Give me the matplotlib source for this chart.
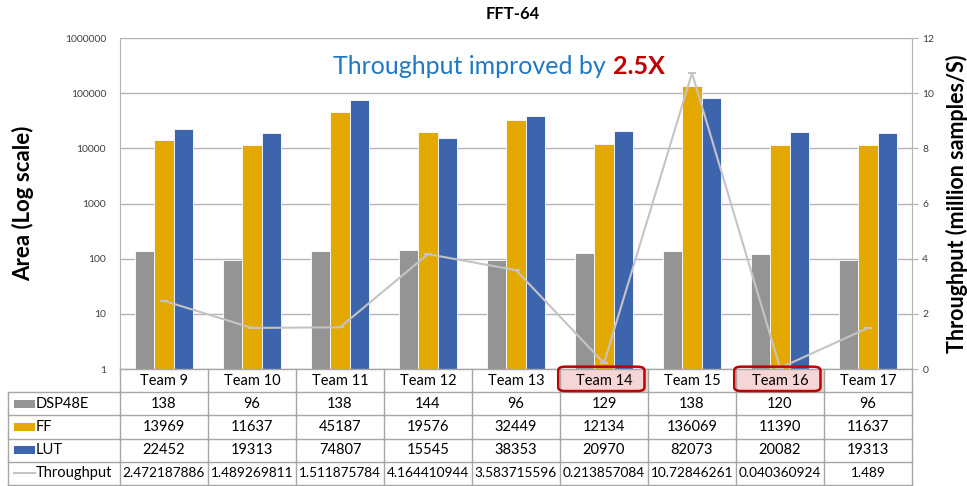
import numpy as np
import matplotlib.pyplot as plt
from matplotlib.patches import Rectangle, FancyBboxPatch
from matplotlib.lines import Line2D

plt.rcParams['font.family'] = ['Lato', 'DejaVu Sans']

teams = ['Team 9', 'Team 10', 'Team 11', 'Team 12', 'Team 13',
         'Team 14', 'Team 15', 'Team 16', 'Team 17']
dsp48e = [138, 96, 138, 144, 96, 129, 138, 120, 96]
ff = [13969, 11637, 45187, 19576, 32449, 12134, 136069, 11390, 11637]
lut = [22452, 19313, 74807, 15545, 38353, 20970, 82073, 20082, 19313]
throughput = [2.472187886, 1.489269811, 1.511875784, 4.164410944, 3.583715596,
              0.213857084, 10.72846261, 0.040360924, 1.489]
throughput_text = ['2.472187886', '1.489269811', '1.511875784', '4.164410944',
                   '3.583715596', '0.213857084', '10.72846261', '0.040360924', '1.489']
highlighted = ['Team 14', 'Team 16']

c_dsp = '#949494'
c_ff = '#E3A900'
c_lut = '#3C65AE'
c_thr = '#C4C4C4'
c_grid = '#B3B3B3'
fs = 10.5

W, H = 967, 486
fig = plt.figure(figsize=(W / 100, H / 100), dpi=100)

def px(x0, y0, x1, y1):
    return [x0 / W, 1 - y1 / H, (x1 - x0) / W, (y1 - y0) / H]

ax = fig.add_axes(px(120, 38, 912, 369))
x = np.arange(len(teams))
bw = 0.22
ax.bar(x - bw, dsp48e, bw, color=c_dsp, edgecolor='white', linewidth=0.6, zorder=3)
ax.bar(x, ff, bw, color=c_ff, edgecolor='white', linewidth=0.6, zorder=3)
ax.bar(x + bw, lut, bw, color=c_lut, edgecolor='white', linewidth=0.6, zorder=3)
ax.set_yscale('log')
ax.set_ylim(1, 1e6)
ax.set_xlim(-0.5, len(teams) - 0.5)
ax.set_yticks([1, 10, 100, 1000, 10000, 100000, 1000000])
ax.set_yticklabels(['1', '10', '100', '1000', '10000', '100000', '1000000'])
ax.minorticks_off()
ax.tick_params(axis='y', length=0, pad=10, labelsize=7.5, labelcolor='#404040')
ax.set_xticks([])
ax.grid(axis='y', color=c_grid, linewidth=1, zorder=0)
for s in ['top', 'bottom', 'right']:
    ax.spines[s].set_visible(False)
ax.spines['left'].set_color(c_grid)
ax.set_ylabel('Area (Log scale)', fontsize=16, fontweight='bold', labelpad=22)

ax2 = ax.twinx()
ax2.plot(x, throughput, color=c_thr, linewidth=1.5, marker='_', markersize=6,
         markeredgewidth=1.5, zorder=4)
ax2.set_ylim(0, 12)
ax2.set_yticks(range(0, 13, 2))
ax2.tick_params(axis='y', length=4, color=c_grid, labelsize=7.5, labelcolor='#404040')
for s in ['top', 'bottom', 'left']:
    ax2.spines[s].set_visible(False)
ax2.spines['right'].set_color(c_grid)
ax2.set_ylabel('Throughput (million samples/S)', fontsize=15.5, fontweight='bold', labelpad=8)

fig.text(513 / W, 1 - 14 / H, 'FFT-64', ha='center', va='center', fontsize=12, fontweight='bold')
fig.text(606 / W, 1 - 66 / H, 'Throughput improved by', ha='right', va='center',
         fontsize=18, color='#1F78C4')
fig.text(613 / W, 1 - 66 / H, '2.5X', ha='left', va='center',
         fontsize=18, color='#C00000', fontweight='bold')

# data table under the plot, columns aligned with the categories
tab = fig.add_axes(px(120, 369, 912, 485))
tab.set_xlim(-0.5, len(teams) - 0.5)
tab.set_ylim(5, 0)
tab.axis('off')
left = -0.5 - 112 / 88
lc = '#A6A6A6'

def hline(y, x0, x1):
    tab.add_line(Line2D([x0, x1], [y, y], color=lc, linewidth=1, clip_on=False))

def vline(xv, y0, y1):
    tab.add_line(Line2D([xv, xv], [y0, y1], color=lc, linewidth=1, clip_on=False))

hline(0, -0.5, len(teams) - 0.5)
for r in range(1, 6):
    hline(r, left, len(teams) - 0.5)
vline(left, 1, 5)
for i in range(len(teams) + 1):
    vline(i - 0.5, 0, 5)

for i, t in enumerate(teams):
    if t in highlighted:
        tab.add_patch(Rectangle((i - 0.5, 0), 1, 1, facecolor='#F5D5D5',
                                edgecolor='none', zorder=1))
        tab.add_patch(FancyBboxPatch((i - 0.52, -0.1), 0.98, 1.05,
                                     boxstyle='round,pad=0,rounding_size=0.08',
                                     mutation_aspect=2.0,
                                     facecolor='none', edgecolor='#C00000',
                                     linewidth=1.8, clip_on=False, zorder=5))
    tab.text(i, 0.5, t, ha='center', va='center', fontsize=fs, zorder=6)

rows = [dsp48e, ff, lut]
for r, vals in enumerate(rows, start=1):
    for i, v in enumerate(vals):
        tab.text(i, r + 0.5, str(v), ha='center', va='center', fontsize=fs)
for i, s in enumerate(throughput_text):
    tab.text(i, 4.5, s, ha='center', va='center', fontsize=9.8)

key_x0 = left + 6 / 88
key_w = 21 / 88
for r, (name, col) in enumerate([('DSP48E', c_dsp), ('FF', c_ff), ('LUT', c_lut)], start=1):
    tab.add_patch(Rectangle((key_x0, r + 0.33), key_w, 0.34, facecolor=col,
                            edgecolor='none', clip_on=False))
    tab.text(key_x0 + key_w + 0.01, r + 0.5, name, ha='left', va='center', fontsize=fs)
tab.add_line(Line2D([key_x0, key_x0 + key_w], [4.5, 4.5], color=c_thr,
                    linewidth=1.5, clip_on=False))
tab.text(key_x0 + key_w + 0.01, 4.5, 'Throughput', ha='left', va='center', fontsize=fs)

fig.savefig('out.png', dpi=100)
